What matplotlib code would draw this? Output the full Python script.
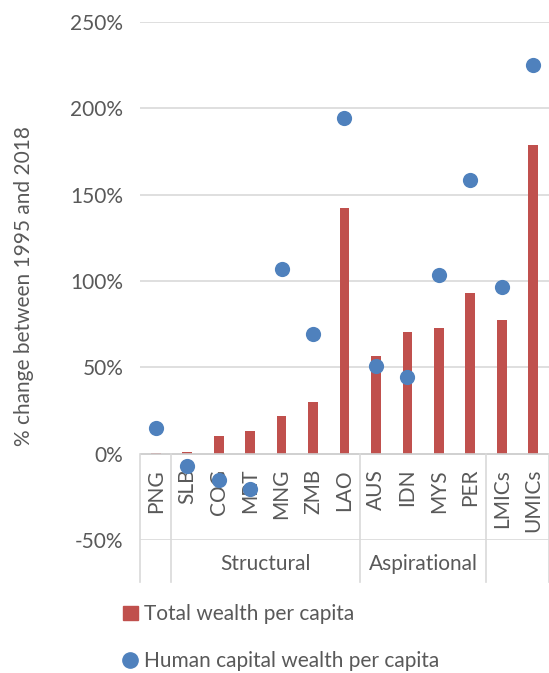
import matplotlib
matplotlib.use("Agg")
import matplotlib.pyplot as plt
import matplotlib.transforms as mtransforms
from matplotlib.lines import Line2D
from matplotlib.patches import Patch

plt.rcParams['font.family'] = ['Lato', 'DejaVu Sans']

countries = ["PNG", "SLB", "COG", "MRT", "MNG", "ZMB", "LAO",
             "AUS", "IDN", "MYS", "PER", "LMICs", "UMICs"]
total_wealth = [0.5, 1, 10, 13, 22, 30, 142, 56.7, 70.2, 72.7, 93, 77.5, 179]
human_capital = [14.9, -7.3, -15.4, -20.3, 106.9, 69.6, 194.6,
                 50.7, 44.2, 103.6, 158.4, 96.5, 225.3]
groups = [("Structural", 1, 6), ("Aspirational", 7, 10)]
separators = [-0.5, 0.5, 6.5, 10.5, 12.5]
yticks = [-50, 0, 50, 100, 150, 200, 250]

bar_color = "#C0504D"
dot_color = "#4F81BD"
text_color = "#595959"
grid_color = "#D9D9D9"
fs = 15

fig = plt.figure(figsize=(5.49, 6.73), dpi=100)
ax = fig.add_axes([0.255, 0.1976, 0.745, 0.7697])

x = list(range(len(countries)))
ax.bar(x, total_wealth, width=0.31, color=bar_color, zorder=2)
ax.scatter(x, human_capital, s=120, color=dot_color, zorder=5, linewidths=0)

ax.set_xlim(-0.5, 12.5)
ax.set_ylim(-50, 250)
for s in ax.spines.values():
    s.set_visible(False)

for t in yticks:
    ax.axhline(t, color=grid_color, lw=1.2, zorder=0)
ax.axhline(0, color="#CFCFCF", lw=1.2, zorder=3)

ax.set_xticks([])
ax.set_yticks(yticks)
ax.set_yticklabels([f"{t}%" for t in yticks])
ax.tick_params(axis="y", length=0, pad=12, labelsize=fs, labelcolor=text_color)
ax.set_ylabel("% change between 1995 and 2018", fontsize=fs, color=text_color)
ax.yaxis.set_label_coords(-0.26, 0.49)

# category labels under the zero line
for i, name in enumerate(countries):
    ax.annotate(name, xy=(i, 0), xytext=(0, -11), textcoords="offset points",
                rotation=90, ha="center", va="top", fontsize=fs,
                color=text_color, zorder=4)

# group box lines
trans = mtransforms.blended_transform_factory(ax.transData, ax.transAxes)
bottom = -0.081
for sx in separators:
    ax.plot([sx, sx], [0.1667, bottom], transform=trans, color=grid_color,
            lw=1.2, clip_on=False, zorder=3)
for name, a, b in groups:
    ax.text((a + b) / 2, -0.047, name, transform=trans, ha="center", va="center",
            fontsize=fs, color=text_color)

handles = [Patch(color=bar_color),
           Line2D([], [], marker="o", ls="", color=dot_color, markersize=11)]
fig.legend(handles, ["Total wealth per capita", "Human capital wealth per capita"],
           loc="upper left", bbox_to_anchor=(0.19, 0.13), frameon=False,
           fontsize=fs, labelcolor=text_color, handlelength=0.7,
           handleheight=0.7, handletextpad=0.3, labelspacing=1.3)

fig.savefig("out.png", dpi=100)
